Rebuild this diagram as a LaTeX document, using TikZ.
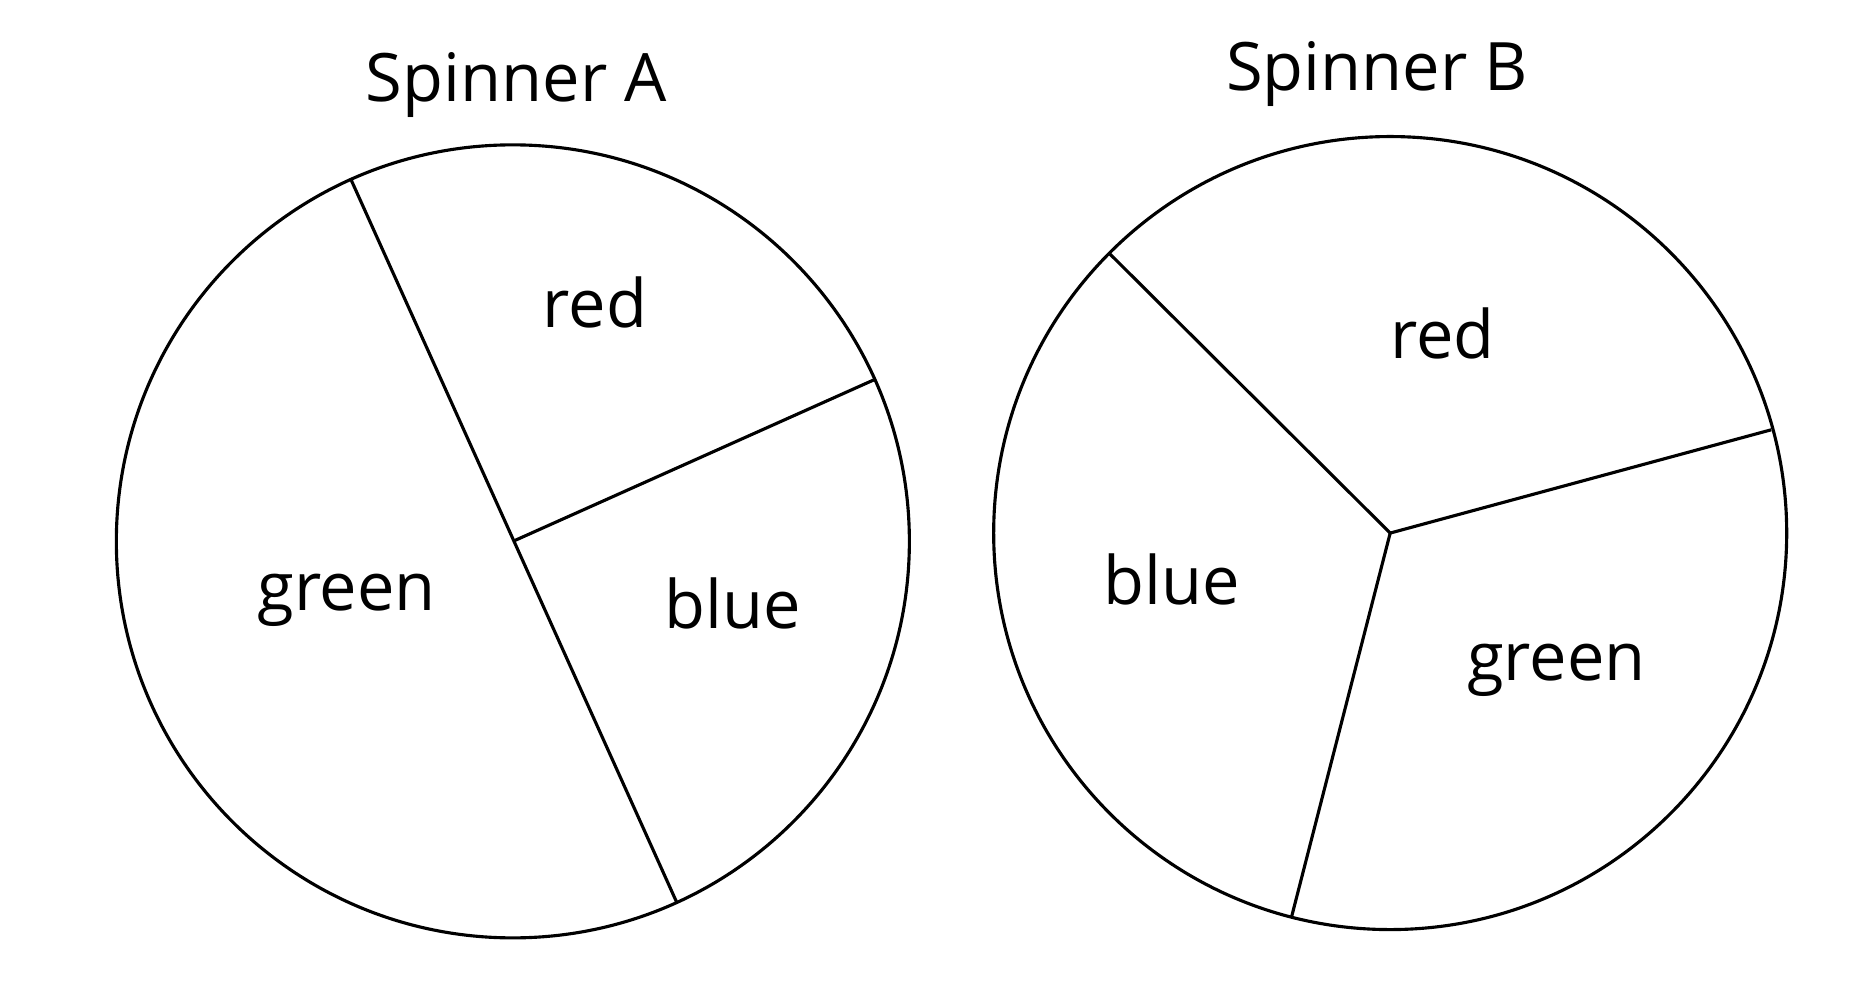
\documentclass[tikz,border=0pt]{standalone}
\usepackage{fontspec}
\setmainfont{Open Sans}
\begin{document}
\begin{tikzpicture}[x=0.01cm, y=-0.01cm, line width=0.75pt,
  lbl/.style={font=\fontsize{16}{18}\selectfont}]
\useasboundingbox (0,0) rectangle (1560,835.6);
% Spinner A
\coordinate (ca) at (432,456);
\draw (ca) circle[radius=334];
\draw (296,152) coordinate (a1) -- (570,760) coordinate (a2);
\draw (ca) -- (736,320) coordinate (a3);
\node[lbl] (titleA) at (435,72) {Spinner A};
\node[lbl] (redA) at (501,255) {red};
\node[lbl] (blueA) at (617,508) {blue};
\node[lbl] (greenA) at (292,506) {green};
% Spinner B
\coordinate (cb) at (1171,449);
\draw (cb) circle[radius=334];
\draw (cb) -- (935,214) coordinate (b1);
\draw (cb) -- (1492,362) coordinate (b2);
\draw (cb) -- (1088,772) coordinate (b3);
\node[lbl] (titleB) at (1160,62) {Spinner B};
\node[lbl] (redB) at (1215,281) {red};
\node[lbl] (blueB) at (987,488) {blue};
\node[lbl] (greenB) at (1311,565) {green};
\end{tikzpicture}
\end{document}
